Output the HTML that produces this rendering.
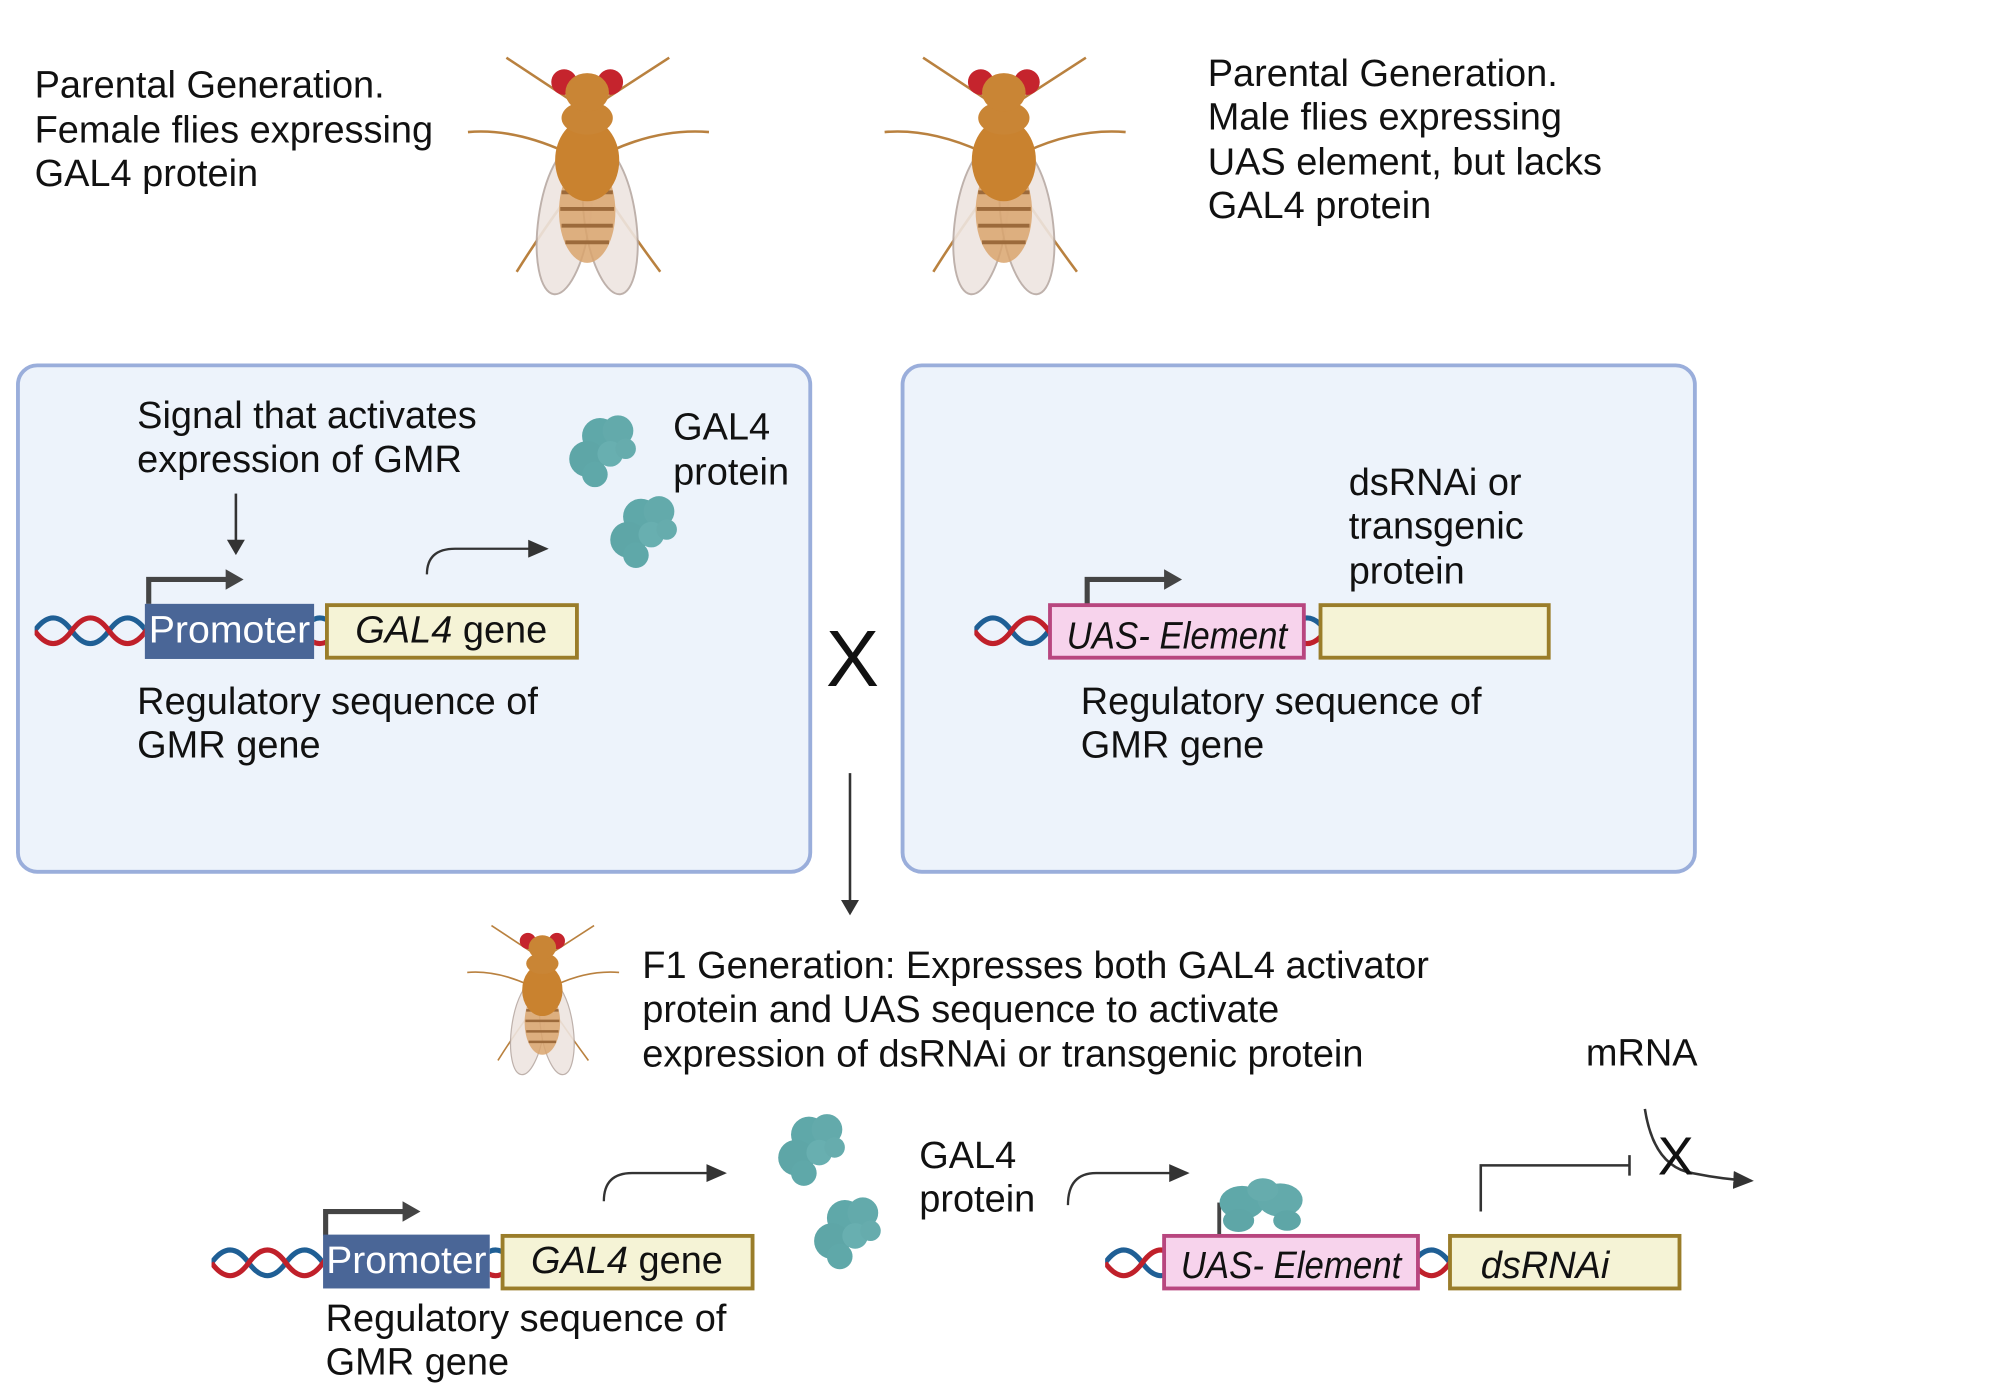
<!DOCTYPE html>
<html><head><meta charset="utf-8"><style>
html,body{margin:0;padding:0;background:#fff;}
svg{display:block;}
text{font-family:"Liberation Sans",sans-serif;fill:#111;}
</style></head><body>
<svg width="2000" height="1400" viewBox="0 0 1560 1092" xmlns="http://www.w3.org/2000/svg">
<defs>
<marker id="ah" markerWidth="12" markerHeight="14" refX="10" refY="7" orient="auto" markerUnits="userSpaceOnUse"><path d="M0,0 L12,7 L0,14z" fill="#333"/></marker>
<marker id="ahb" markerWidth="16" markerHeight="14" refX="14" refY="7" orient="auto" markerUnits="userSpaceOnUse"><path d="M0,0 L16,7 L0,14z" fill="#333"/></marker>
<g id="helix">
<path d="M0,0 q14.5,-20 29,0 t29,0 t29,0 t29,0 t29,0 t29,0" fill="none" stroke="#1f5f95" stroke-width="4"/>
<path d="M0,0 q14.5,20 29,0 t29,0 t29,0 t29,0 t29,0 t29,0" fill="none" stroke="#c0202a" stroke-width="4"/>
</g>
<clipPath id="c1"><rect x="27" y="470" width="86" height="44"/></clipPath>
<clipPath id="c2"><rect x="245" y="470" width="10" height="44"/></clipPath>
<clipPath id="c3"><rect x="760" y="470" width="59" height="44"/></clipPath>
<clipPath id="c4"><rect x="1017" y="470" width="13" height="44"/></clipPath>
<clipPath id="c5"><rect x="165" y="963" width="87" height="44"/></clipPath>
<clipPath id="c6"><rect x="382" y="963" width="10" height="44"/></clipPath>
<clipPath id="c7"><rect x="862" y="963" width="46" height="44"/></clipPath>
<clipPath id="c8"><rect x="1106" y="963" width="25" height="44"/></clipPath>
<g id="prot">
<circle cx="0" cy="-12" r="14" fill="#5fa8a9"/>
<circle cx="14" cy="-16" r="12" fill="#63aaab"/>
<circle cx="-10" cy="6" r="14" fill="#5ea6a7"/>
<circle cx="8" cy="2" r="10" fill="#68afb0"/>
<circle cx="-4" cy="18" r="10" fill="#5fa8a9"/>
<circle cx="20" cy="-2" r="8" fill="#66acad"/>
</g>
<g id="fly">
<g stroke="#b9813f" stroke-width="2" fill="none">
<path d="M448,80 L395,45"/><path d="M468,80 L522,45"/>
<path d="M440,118 Q400,100 365,103"/><path d="M476,118 Q515,100 553,103"/>
<path d="M438,160 Q420,185 403,212"/><path d="M478,160 Q495,185 515,212"/>
</g>
<ellipse cx="440" cy="172" rx="20" ry="58" fill="#eee5e0" stroke="#b7a9a3" stroke-width="1.5" opacity="0.9" transform="rotate(8 440 172)"/>
<ellipse cx="476" cy="172" rx="20" ry="58" fill="#eee5e0" stroke="#b7a9a3" stroke-width="1.5" opacity="0.9" transform="rotate(-8 476 172)"/>
<ellipse cx="458" cy="165" rx="22" ry="40" fill="#d9a56d" opacity="0.85"/>
<path d="M438,150 h40 M437,163 h42 M438,176 h40 M441,189 h34" stroke="#9c6a3b" stroke-width="3"/>
<ellipse cx="458" cy="125" rx="25" ry="32" fill="#c9822f"/>
<ellipse cx="458" cy="92" rx="20" ry="13" fill="#c98535"/>
<circle cx="440" cy="64" r="10" fill="#c5242d"/>
<circle cx="476" cy="64" r="10" fill="#c5242d"/>
<ellipse cx="458" cy="72" rx="17" ry="15" fill="#c98535"/>
</g>
</defs>

<g font-size="29.6">
<text x="27" y="76">Parental Generation.</text>
<text x="27" y="111">Female flies expressing</text>
<text x="27" y="145">GAL4 protein</text>
<text x="942" y="67">Parental Generation.</text>
<text x="942" y="101">Male flies expressing</text>
<text x="942" y="136">UAS element, but lacks</text>
<text x="942" y="170">GAL4 protein</text>
</g>
<use href="#fly"/>
<use href="#fly" transform="translate(325,0)"/>
<use href="#fly" transform="translate(134.5,693.6) scale(0.63)"/>

<rect x="14" y="285" width="618" height="395" rx="15" fill="#edf3fb" stroke="#9aaedb" stroke-width="3"/>
<rect x="704" y="285" width="618" height="395" rx="15" fill="#edf3fb" stroke="#9aaedb" stroke-width="3"/>

<text x="665" y="535" font-size="62" text-anchor="middle">X</text>
<line x1="663" y1="603" x2="663" y2="712" stroke="#333" stroke-width="2" marker-end="url(#ah)"/>

<g font-size="29.6">
<text x="107" y="334">Signal that activates</text>
<text x="107" y="368">expression of GMR</text>
<text x="525" y="343">GAL4</text>
<text x="525" y="378">protein</text>
<text x="107" y="557">Regulatory sequence of</text>
<text x="107" y="591">GMR gene</text>
</g>
<line x1="184" y1="385" x2="184" y2="431" stroke="#333" stroke-width="2" marker-end="url(#ah)"/>
<g clip-path="url(#c1)"><use href="#helix" transform="translate(27,492)"/></g>
<g clip-path="url(#c2)"><use href="#helix" transform="translate(235,492)"/></g>
<path d="M116,471 V452 H178" fill="none" stroke="#444" stroke-width="4"/>
<path d="M176,444 L190,452 L176,460z" fill="#444"/>
<rect x="113" y="471" width="132" height="43" fill="#4a6697"/>
<text x="179" y="501" font-size="29.6" style="fill:#fff" text-anchor="middle" textLength="126" lengthAdjust="spacingAndGlyphs">Promoter</text>
<rect x="255" y="472" width="195" height="41" fill="#f5f3d6" stroke="#9a7d2a" stroke-width="3"/>
<text x="352" y="501" font-size="29.6" text-anchor="middle"><tspan font-style="italic">GAL4</tspan> gene</text>
<path d="M333,448 Q333,428 355,428 L426,428" fill="none" stroke="#333" stroke-width="1.8" marker-end="url(#ahb)"/>
<use href="#prot" transform="translate(468,352)"/>
<use href="#prot" transform="translate(500,415)"/>

<g font-size="29.6">
<text x="1052" y="386">dsRNAi or</text>
<text x="1052" y="420">transgenic</text>
<text x="1052" y="455">protein</text>
<text x="843" y="557">Regulatory sequence of</text>
<text x="843" y="591">GMR gene</text>
</g>
<g clip-path="url(#c3)"><use href="#helix" transform="translate(760,492)"/></g>
<g clip-path="url(#c4)"><use href="#helix" transform="translate(1005,492)"/></g>
<path d="M848,471 V452 H910" fill="none" stroke="#444" stroke-width="4"/>
<path d="M908,444 L922,452 L908,460z" fill="#444"/>
<rect x="819" y="472" width="198" height="41" fill="#f7d3ec" stroke="#b8467f" stroke-width="3"/>
<text x="918" y="506" font-size="29.6" font-style="italic" text-anchor="middle" textLength="172" lengthAdjust="spacingAndGlyphs">UAS- Element</text>
<rect x="1030" y="472" width="178" height="41" fill="#f5f3d6" stroke="#9a7d2a" stroke-width="3"/>

<g font-size="29.6">
<text x="501" y="763">F1 Generation: Expresses both GAL4 activator</text>
<text x="501" y="797">protein and UAS sequence  to activate</text>
<text x="501" y="832">expression of dsRNAi or transgenic protein</text>
<text x="1237" y="831">mRNA</text>
<text x="717" y="911">GAL4</text>
<text x="717" y="945">protein</text>
<text x="254" y="1038">Regulatory sequence of</text>
<text x="254" y="1072">GMR gene</text>
</g>

<g clip-path="url(#c5)"><use href="#helix" transform="translate(165,985)"/></g>
<g clip-path="url(#c6)"><use href="#helix" transform="translate(372,985)"/></g>
<path d="M254,964 V945 H316" fill="none" stroke="#444" stroke-width="4"/>
<path d="M314,937 L328,945 L314,953z" fill="#444"/>
<rect x="252" y="963" width="130" height="42" fill="#4a6697"/>
<text x="317" y="993" font-size="29.6" style="fill:#fff" text-anchor="middle" textLength="125" lengthAdjust="spacingAndGlyphs">Promoter</text>
<rect x="392" y="964" width="195" height="41" fill="#f5f3d6" stroke="#9a7d2a" stroke-width="3"/>
<text x="489" y="993" font-size="29.6" text-anchor="middle"><tspan font-style="italic">GAL4</tspan> gene</text>
<path d="M471,937 Q471,915 493,915 L565,915" fill="none" stroke="#333" stroke-width="1.8" marker-end="url(#ahb)"/>
<use href="#prot" transform="translate(631,897)"/>
<use href="#prot" transform="translate(659,962)"/>

<path d="M833,940 Q833,915 855,915 L926,915" fill="none" stroke="#333" stroke-width="1.8" marker-end="url(#ahb)"/>
<g clip-path="url(#c7)"><use href="#helix" transform="translate(862,985)"/></g>
<g clip-path="url(#c8)"><use href="#helix" transform="translate(1102,985)"/></g>
<line x1="951" y1="963" x2="951" y2="938" stroke="#444" stroke-width="3"/>
<g transform="translate(985,940) scale(1.35,1)">
<circle cx="-12" cy="-2" r="13" fill="#5fa8a9"/><circle cx="10" cy="-4" r="13" fill="#63aaab"/>
<circle cx="-14" cy="12" r="9" fill="#5ea6a7"/><circle cx="14" cy="12" r="8" fill="#5ea6a7"/>
<circle cx="0" cy="-12" r="9" fill="#66acad"/>
</g>
<rect x="908" y="964" width="198" height="41" fill="#f7d3ec" stroke="#b8467f" stroke-width="3"/>
<text x="1007" y="997" font-size="29.6" font-style="italic" text-anchor="middle" textLength="172" lengthAdjust="spacingAndGlyphs">UAS- Element</text>
<rect x="1131" y="964" width="179" height="41" fill="#f5f3d6" stroke="#9a7d2a" stroke-width="3"/>
<text x="1155" y="997" font-size="29.6" font-style="italic">dsRNAi</text>
<path d="M1155,945 V909 H1271" fill="none" stroke="#333" stroke-width="2"/>
<line x1="1271" y1="901" x2="1271" y2="917" stroke="#333" stroke-width="2"/>
<path d="M1283,865 Q1290,910 1320,915 Q1345,920 1366,921" fill="none" stroke="#333" stroke-width="2" marker-end="url(#ahb)"/>
<text x="1307" y="916" font-size="42" text-anchor="middle">X</text>
</svg>
</body></html>
